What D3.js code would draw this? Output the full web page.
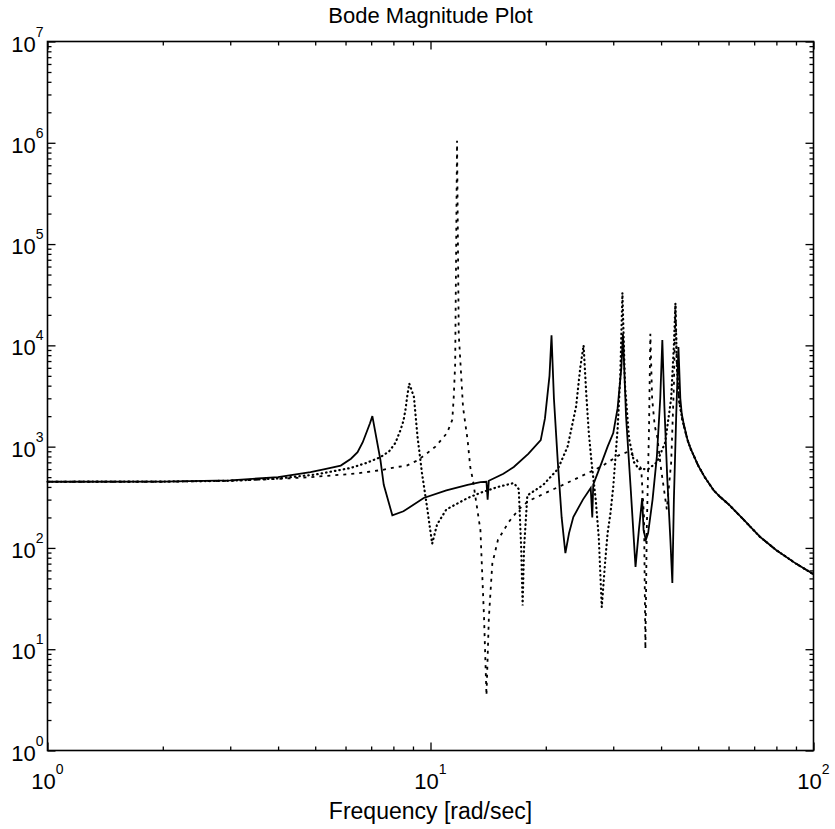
<!DOCTYPE html>
<html>
<head>
<meta charset="utf-8">
<script src="https://cdn.jsdelivr.net/npm/d3@7"></script>
<style>
  body { margin: 0; background: #fff; }
  text { font-family: "Liberation Sans", Arial, sans-serif; fill: #000; }
</style>
</head>
<body>
<div id="chart"></div>
<script>
// Solid response
const solidFreq = [1, 2, 3, 4, 4.86, 5.3, 5.83, 6.2, 6.45, 6.65, 6.84, 6.95, 7.05, 7.4, 7.55, 7.95, 8.5, 9.6, 11, 12.5, 13.5, 14.0, 14.1, 14.2, 15.5, 16.5, 18, 19.4, 19.9, 20.45, 20.7, 21.0, 21.5, 22.0, 22.5, 23.0, 23.6, 25, 26.2, 26.45, 26.6, 28, 29, 30.0, 30.8, 31.5, 31.8, 32.4, 33.3, 34.3, 35.0, 35.7, 36.0, 36.5, 37, 38, 39, 39.8, 40.3, 40.8, 41.5, 42.3, 42.8, 43.2, 43.8, 44.4, 44.9, 45.3, 45.8, 46.9, 47.8, 50, 52, 54.8, 57, 60, 65.7, 72.6, 80, 90, 100];
const solidMag = [450, 452, 465, 500, 560, 600, 650, 760, 880, 1100, 1450, 1700, 2000, 740, 420, 210, 230, 311, 370, 420, 447, 450, 300, 460, 540, 629, 850, 1160, 1900, 5000, 12600, 3000, 700, 200, 89, 140, 202, 300, 390, 200, 420, 700, 1000, 1360, 2400, 6000, 13000, 2000, 400, 65, 150, 310, 150, 120, 140, 300, 800, 3000, 11300, 2500, 500, 120, 45, 300, 2000, 9600, 3000, 2100, 1700, 1160, 950, 650, 500, 373, 320, 270, 190, 128, 95, 70, 55];

// Dotted response
const dottedFreq = [1, 2, 3, 4, 5, 6.18, 6.8, 7.4, 7.8, 8.1, 8.35, 8.5, 8.6, 8.7, 8.8, 9.05, 9.25, 9.5, 9.8, 10.1, 10.4, 11, 12.5, 13.5, 15, 16.5, 17.0, 17.25, 17.4, 17.55, 17.9, 19.7, 21.5, 22.8, 24, 24.6, 25.1, 25.5, 25.9, 26.3, 27.0, 27.5, 28.0, 28.6, 29.0, 29.5, 30.0, 30.8, 31.3, 31.7, 32.2, 33, 34, 35, 37, 39, 41, 42.5, 43.2, 43.6, 44.0, 44.6, 45.5, 46.9, 47.8, 50, 52, 54.8, 57, 60, 65.7, 72.6, 80, 90, 100];
const dottedMag = [450, 452, 460, 485, 530, 615, 690, 787, 900, 1090, 1460, 1800, 2300, 3200, 4200, 3100, 1250, 550, 250, 110, 170, 240, 311, 350, 400, 437, 380, 100, 27, 100, 330, 420, 600, 1000, 2500, 6000, 10000, 3400, 1370, 735, 300, 128, 26, 76, 140, 220, 400, 1500, 5000, 33000, 4000, 1200, 700, 600, 600, 700, 1100, 3000, 10000, 26000, 6000, 2800, 1800, 1160, 950, 650, 500, 373, 320, 270, 190, 128, 95, 70, 55];

// Dashed response
const dashedFreq = [1, 2, 3, 4, 4.86, 5.56, 6.45, 7.5, 8.18, 8.67, 9.3, 9.79, 10.3, 11.04, 11.4, 11.5, 11.6, 11.73, 11.85, 12.16, 12.5, 12.7, 12.9, 13.5, 13.8, 14.0, 14.2, 14.5, 15.0, 16, 17, 18, 20, 22.5, 25, 28, 31, 33, 34.5, 35.5, 36.1, 36.4, 36.7, 37.2, 37.5, 37.9, 38.5, 39.1, 40, 41.4, 42.5, 43.2, 43.6, 44.0, 44.6, 45.5, 46.9, 47.8, 50, 52, 54.8, 57, 60, 65.7, 72.6, 80, 90, 100];
const dashedMag = [450, 450, 460, 480, 500, 520, 545, 590, 630, 650, 740, 860, 1000, 1360, 1840, 3100, 6600, 1050000, 13000, 2450, 1160, 630, 470, 150, 20, 3.5, 20, 70, 120, 180, 240, 290, 350, 430, 520, 640, 820, 900, 750, 600, 200, 10, 150, 1500, 13000, 3000, 1600, 1240, 600, 240, 700, 4000, 25000, 6000, 2800, 1800, 1160, 950, 650, 500, 373, 320, 270, 190, 128, 95, 70, 55];

// Axis ticks
const xExponents = [0, 1, 2];
const yExponents = [0, 1, 2, 3, 4, 5, 6, 7];

const W = 835, H = 829;
const plotLeft = 47.5, plotRight = 813.5, plotTop = 41.5, plotBottom = 750.5;

const svg = d3.select("#chart").append("svg")
  .attr("width", W).attr("height", H);

const x = d3.scaleLog().domain([1, 100]).range([plotLeft, plotRight]);
const y = d3.scaleLog().domain([1, 1e7]).range([plotBottom, plotTop]);

const xMajor = xExponents.map(e => 10 ** e);
const yMajor = yExponents.map(e => 10 ** e);
const xMinor = [], yMinor = [];
xExponents.slice(0, -1).forEach(e => d3.range(2, 10).forEach(k => xMinor.push(k * 10 ** e)));
yExponents.slice(0, -1).forEach(e => d3.range(2, 10).forEach(k => yMinor.push(k * 10 ** e)));

// ticks point inward on all four sides
function ticks(axis, vals, size, tr) {
  svg.append("g").attr("transform", tr)
    .call(axis.tickValues(vals).tickSize(-size).tickFormat(""))
    .call(g => g.select(".domain").remove())
    .call(g => g.selectAll("line").attr("stroke", "#000").attr("stroke-width", 1.3));
}
ticks(d3.axisLeft(y), yMajor, 8, `translate(${plotLeft},0)`);
ticks(d3.axisLeft(y), yMinor, 4, `translate(${plotLeft},0)`);
ticks(d3.axisRight(y), yMajor, 8, `translate(${plotRight},0)`);
ticks(d3.axisRight(y), yMinor, 4, `translate(${plotRight},0)`);
ticks(d3.axisBottom(x), xMajor, 8, `translate(0,${plotBottom})`);
ticks(d3.axisBottom(x), xMinor, 4, `translate(0,${plotBottom})`);
ticks(d3.axisTop(x), xMajor, 8, `translate(0,${plotTop})`);
ticks(d3.axisTop(x), xMinor, 4, `translate(0,${plotTop})`);

svg.append("rect")
  .attr("x", plotLeft).attr("y", plotTop)
  .attr("width", plotRight - plotLeft).attr("height", plotBottom - plotTop)
  .attr("fill", "none").attr("stroke", "#000").attr("stroke-width", 1.6);

// curves
const line = d3.line().x(d => x(d[0])).y(d => y(d[1]));
const plot = svg.append("g");

plot.append("path").datum(d3.zip(dashedFreq, dashedMag))
  .attr("d", line).attr("fill", "none").attr("stroke", "#000")
  .attr("stroke-width", 1.8).attr("stroke-dasharray", "3,5");

plot.append("path").datum(d3.zip(dottedFreq, dottedMag))
  .attr("d", line).attr("fill", "none").attr("stroke", "#000")
  .attr("stroke-width", 2.2).attr("stroke-linecap", "round")
  .attr("stroke-dasharray", "0.5,4");

plot.append("path").datum(d3.zip(solidFreq, solidMag))
  .attr("d", line).attr("fill", "none").attr("stroke", "#000")
  .attr("stroke-width", 1.8).attr("stroke-linejoin", "miter");

// tick labels as 10 with superscript exponent
yExponents.forEach(e => {
  const t = svg.append("text")
    .attr("x", plotLeft - 4).attr("y", y(10 ** e) + 10)
    .attr("text-anchor", "end").style("font-size", "22px");
  t.append("tspan").text("10");
  t.append("tspan").attr("dy", -15).style("font-size", "14px").text(e);
});

xExponents.forEach(e => {
  const t = svg.append("text")
    .attr("x", x(10 ** e)).attr("y", 789)
    .attr("text-anchor", "middle").style("font-size", "22px");
  t.append("tspan").text("10");
  t.append("tspan").attr("dy", -15).style("font-size", "14px").text(e);
});

svg.append("text")
  .attr("x", (plotLeft + plotRight) / 2).attr("y", 23)
  .attr("text-anchor", "middle").style("font-size", "22px")
  .text("Bode Magnitude Plot");

svg.append("text")
  .attr("x", (plotLeft + plotRight) / 2).attr("y", 819)
  .attr("text-anchor", "middle").style("font-size", "23px")
  .text("Frequency [rad/sec]");
</script>
</body>
</html>
